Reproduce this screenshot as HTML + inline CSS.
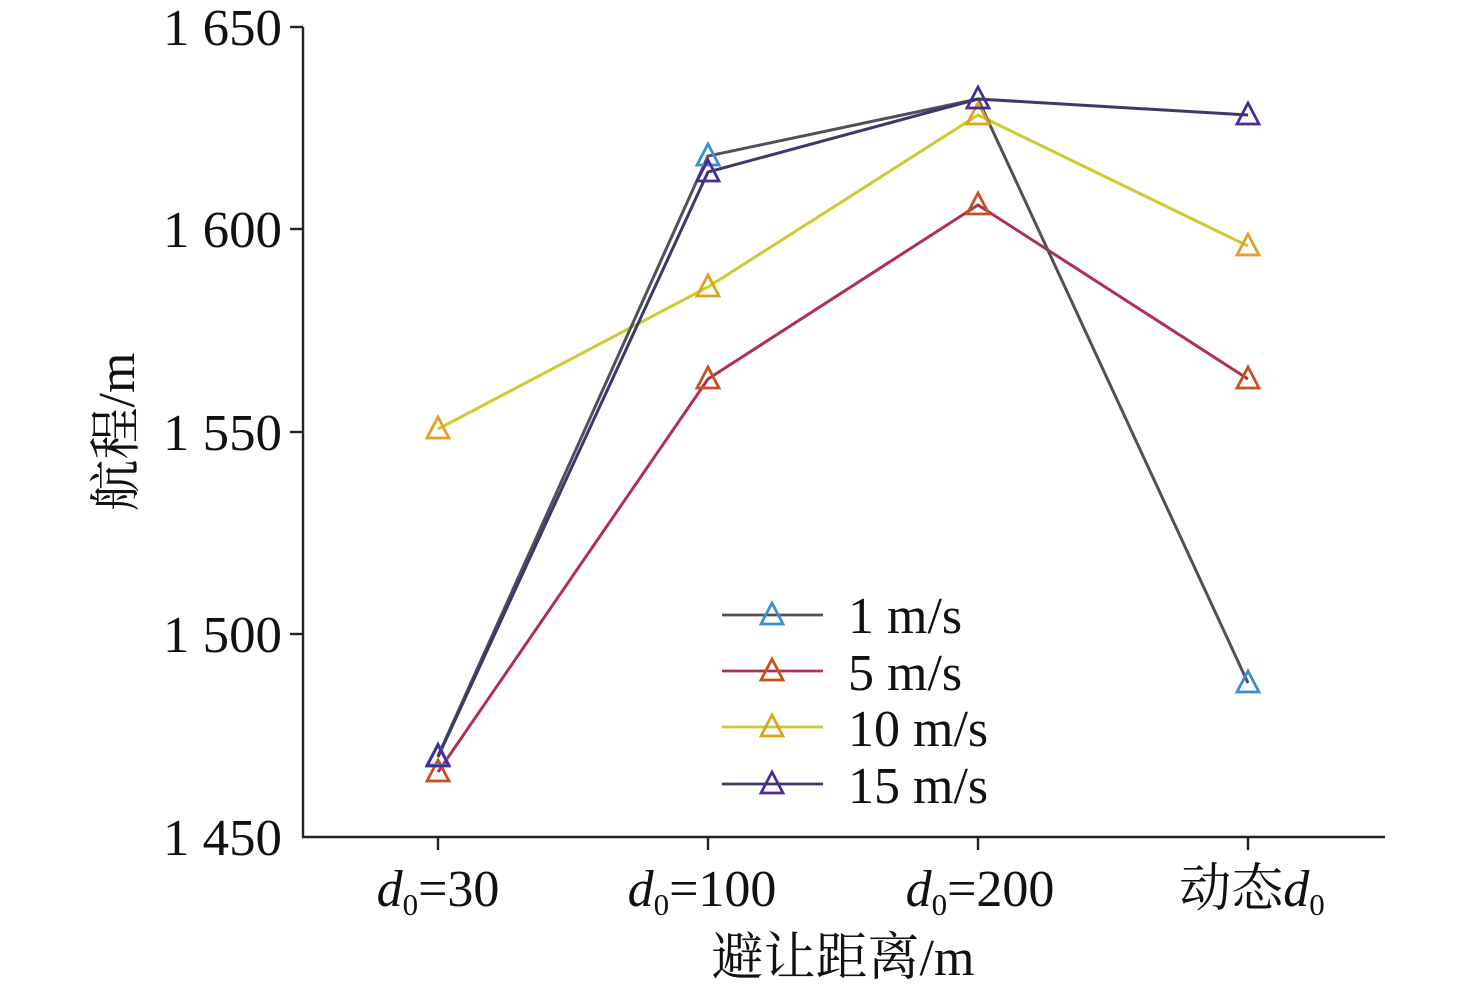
<!DOCTYPE html>
<html><head><meta charset="utf-8"><style>
html,body{margin:0;padding:0;background:#fff}
svg{display:block}
text{font-family:"Liberation Serif","Noto Serif CJK SC",serif;fill:#111}
</style></head><body>
<svg width="1476" height="991" viewBox="0 0 1476 991">
<rect width="1476" height="991" fill="#fff"/>
<g stroke="#222" stroke-width="2.4" fill="none">
<line x1="303" y1="27" x2="303" y2="838"/>
<line x1="302" y1="837" x2="1385" y2="837"/>
<line x1="303" y1="27" x2="290" y2="27"/>
<line x1="303" y1="229" x2="290" y2="229"/>
<line x1="303" y1="432" x2="290" y2="432"/>
<line x1="303" y1="634" x2="290" y2="634"/>
<line x1="438" y1="837" x2="438" y2="850"/>
<line x1="708" y1="837" x2="708" y2="850"/>
<line x1="978" y1="837" x2="978" y2="850"/>
<line x1="1248" y1="837" x2="1248" y2="850"/>
</g>
<g font-size="52" text-anchor="end">
<text x="282" y="45" textLength="119" lengthAdjust="spacingAndGlyphs">1 650</text>
<text x="282" y="247" textLength="119" lengthAdjust="spacingAndGlyphs">1 600</text>
<text x="282" y="450" textLength="119" lengthAdjust="spacingAndGlyphs">1 550</text>
<text x="282" y="652" textLength="119" lengthAdjust="spacingAndGlyphs">1 500</text>
<text x="282" y="855" textLength="119" lengthAdjust="spacingAndGlyphs">1 450</text>
</g>
<g font-size="52" text-anchor="middle">
<text x="438" y="906"><tspan font-style="italic">d</tspan><tspan font-size="31" dy="9">0</tspan><tspan dy="-9">=30</tspan></text>
<text x="702" y="906"><tspan font-style="italic">d</tspan><tspan font-size="31" dy="9">0</tspan><tspan dy="-9">=100</tspan></text>
<text x="980" y="906"><tspan font-style="italic">d</tspan><tspan font-size="31" dy="9">0</tspan><tspan dy="-9">=200</tspan></text>
<text x="1252" y="906">动态<tspan font-style="italic">d</tspan><tspan font-size="31" dy="9">0</tspan></text>
<text x="843" y="975">避让距离/m</text>
</g>
<text font-size="52" text-anchor="middle" transform="translate(134,432) rotate(-90)">航程/m</text>
<defs>
<path id="tri" d="M0,-12 L11,9 L-11,9 Z"/>
</defs>
<g fill="none" stroke-width="3">
<polyline stroke="#cccc30" points="438,429 708,287 978,115 1248,246"/>
<polyline stroke="#b03050" points="438,772 708,379 978,205 1248,379"/>
<polyline stroke="#50505a" points="438,756 708,156 978,99 1248,683"/>
<polyline stroke="#3a3a6a" points="438,757 708,172 978,99 1248,115"/>
</g>
<g fill="none" stroke-width="2.8">
<g stroke="#e0a020"><use href="#tri" x="438" y="429"/><use href="#tri" x="708" y="287"/><use href="#tri" x="978" y="115"/><use href="#tri" x="1248" y="246"/></g>
<g stroke="#c8501e"><use href="#tri" x="438" y="772"/><use href="#tri" x="708" y="379"/><use href="#tri" x="978" y="205"/><use href="#tri" x="1248" y="379"/></g>
<g stroke="#3a8fd0"><use href="#tri" x="438" y="756"/><use href="#tri" x="708" y="156"/><use href="#tri" x="1248" y="683"/></g>
<g stroke="#4a2a9a"><use href="#tri" x="438" y="757"/><use href="#tri" x="708" y="172"/><use href="#tri" x="978" y="99"/><use href="#tri" x="1248" y="115"/></g>
</g>
<g stroke-width="2.8" fill="none">
<line x1="722" y1="615" x2="823" y2="615" stroke="#50505a"/><use href="#tri" x="772" y="615" stroke="#3a8fd0"/>
<line x1="722" y1="671" x2="823" y2="671" stroke="#b03050"/><use href="#tri" x="772" y="671" stroke="#c8501e"/>
<line x1="722" y1="727" x2="823" y2="727" stroke="#cccc30"/><use href="#tri" x="772" y="727" stroke="#e0a020"/>
<line x1="722" y1="784" x2="823" y2="784" stroke="#3a3a6a"/><use href="#tri" x="772" y="784" stroke="#4a2a9a"/>
</g>
<g font-size="52">
<text x="848" y="633">1 m/s</text>
<text x="848" y="690">5 m/s</text>
<text x="848" y="746">10 m/s</text>
<text x="848" y="803">15 m/s</text>
</g>
</svg>
</body></html>
